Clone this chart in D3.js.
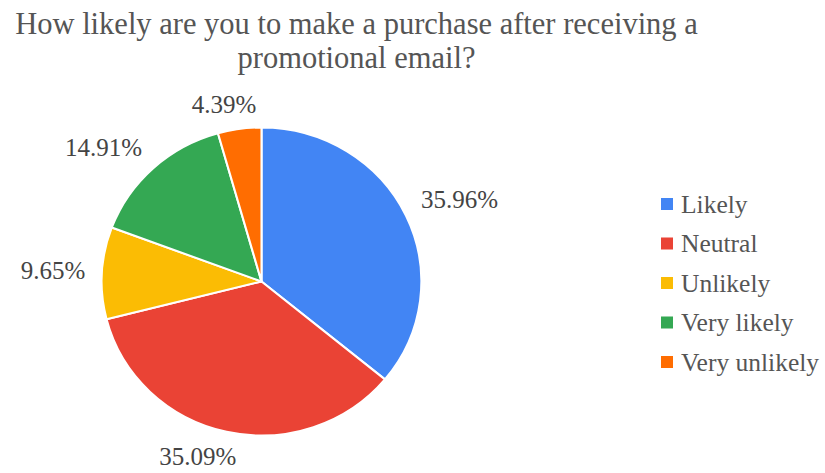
<!DOCTYPE html>
<html>
<head>
<meta charset="utf-8">
<script src="https://cdn.jsdelivr.net/npm/d3@7"></script>
<style>
  html, body { margin: 0; padding: 0; background: #fff; }
  svg { display: block; }
  text { font-family: "Liberation Serif", "Times New Roman", serif; }
</style>
</head>
<body>
<svg id="chart" width="825" height="473"></svg>
<script>
// Survey answers, in the order they are drawn clockwise from 12 o'clock
const categories = ["Likely", "Neutral", "Unlikely", "Very likely", "Very unlikely"];
const shares = [35.96, 35.09, 9.65, 14.91, 4.39];
const colors = ["#4285F4", "#EA4335", "#FBBC04", "#34A853", "#FF6D01"];
const titleLines = ["How likely are you to make a purchase after receiving a", "promotional email?"];

const svg = d3.select("#chart");

// Title, two centred lines
svg.append("g")
  .selectAll("text")
  .data(titleLines)
  .join("text")
  .attr("x", 356.5)
  .attr("y", (d, i) => 34 + i * 34)
  .attr("text-anchor", "middle")
  .attr("font-size", 30.5)
  .attr("fill", "#555")
  .text(d => d);

// Pie, slightly wider than tall
const cx = 261.5, cy = 281.5, r = 154, sx = 1.038;
const data = categories.map((c, i) => ({ name: c, value: shares[i], color: colors[i] }));
const pie = d3.pie().value(d => d.value).sort(null);
const arcs = pie(data);
const arc = d3.arc().innerRadius(0).outerRadius(r);

const g = svg.append("g").attr("transform", `translate(${cx},${cy}) scale(${sx},1)`);
g.selectAll("path")
  .data(arcs)
  .join("path")
  .attr("d", arc)
  .attr("fill", d => d.data.color)
  .attr("stroke", "#fff")
  .attr("stroke-width", 2)
  .attr("stroke-linejoin", "round");

// Percentage labels outside the slices: the label box is pushed away from
// the anchor point on the rim so that its nearest corner faces the pie.
const fmt = d => d3.format(".2f")(d) + "%";
const labelR = 170, halfH = 9;
const soft = v => Math.max(-1, Math.min(1, v * 3));
const labels = svg.append("g")
  .selectAll("text")
  .data(arcs)
  .join("text")
  .attr("text-anchor", "middle")
  .attr("font-size", 25)
  .attr("fill", "#444")
  .text(d => fmt(d.data.value));
labels.each(function(d) {
  const a = (d.startAngle + d.endAngle) / 2;
  const halfW = this.getComputedTextLength() / 2;
  const px = cx + labelR * Math.sin(a) * sx;
  const py = cy - labelR * Math.cos(a);
  const x = px + soft(Math.sin(a)) * halfW;
  const y = py - soft(Math.cos(a)) * halfH;
  d3.select(this).attr("x", x).attr("y", y + 8.5);
});

// Legend
const legend = svg.append("g").attr("transform", "translate(661,204)");
const rows = legend.selectAll("g")
  .data(data)
  .join("g")
  .attr("transform", (d, i) => `translate(0,${i * 39.5})`);
rows.append("rect")
  .attr("x", 0).attr("y", -6)
  .attr("width", 12).attr("height", 12)
  .attr("fill", d => d.color);
rows.append("text")
  .attr("x", 20).attr("y", 8.5)
  .attr("font-size", 25.5)
  .attr("fill", "#555")
  .text(d => d.name);
</script>
</body>
</html>
